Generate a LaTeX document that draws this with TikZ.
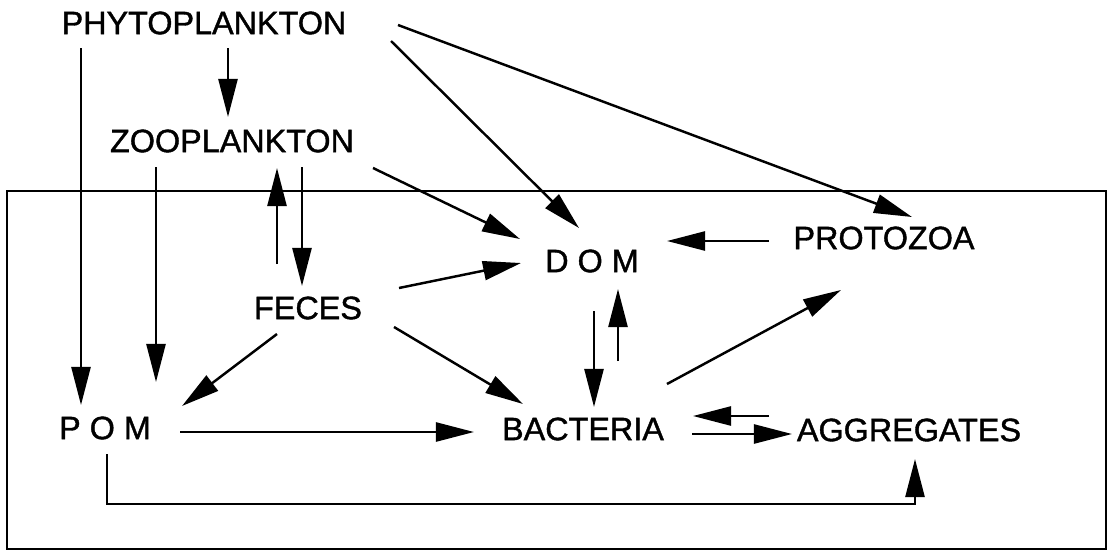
\documentclass[tikz,border=0pt]{standalone}
\usepackage{fontspec}
\setmainfont{Liberation Sans}
\newfontfamily\lblfont{Liberation Sans}[FakeBold=1.2]
\usetikzlibrary{arrows.meta,calc}
\begin{document}
\begin{tikzpicture}[x=0.01cm,y=-0.01cm,
  lbl/.style={inner sep=0pt,anchor=center,font=\lblfont\fontsize{9.2}{11}\selectfont},
  arr/.style={line width=0.7pt,-{Triangle[length=3.8mm,width=1.9mm]}},
  ln/.style={line width=0.6pt}]
\useasboundingbox (0,0) rectangle (1109,551);
\draw[ln] (7,191) rectangle (1106,549);
\node[lbl] (phyto) at (204,23) {PHYTOPLANKTON};
\node[lbl] (zoo) at (232,141) {ZOOPLANKTON};
\node[lbl] (feces) at (308,308) {FECES};
\node[lbl] (dom) at (592,261) {D O M};
\node[lbl] (proto) at (884,238) {PROTOZOA};
\node[lbl] (pom) at (105,428) {P O M};
\node[lbl] (bac) at (583,429) {BACTERIA};
\node[lbl] (agg) at (909,430) {AGGREGATES};
% from phytoplankton
\draw[arr] ($(phyto)+(24,25)$) -- ($(zoo)+(-4,-24)$);
\draw[arr] ($(phyto)+(-123,25)$) -- ($(pom)+(-24,-23)$);
\draw[arr] ($(phyto)+(187,18)$) -- ($(dom)+(-13,-33)$);
\draw[arr] ($(phyto)+(194,2)$) -- ($(proto)+(28,-21)$);
% zooplankton
\draw[arr] ($(zoo)+(-76,26)$) -- ($(pom)+(51,-46)$);
\draw[arr] ($(feces)+(-31,-44)$) -- ($(zoo)+(45,27)$);
\draw[arr] ($(zoo)+(70,26)$) -- ($(feces)+(-6,-22)$);
\draw[arr] ($(zoo)+(141,27)$) -- ($(dom)+(-72,-22)$);
% feces
\draw[arr] ($(feces)+(91,-20)$) -- ($(dom)+(-71,2)$);
\draw[arr] ($(feces)+(-31,26)$) -- ($(pom)+(77,-22)$);
\draw[arr] ($(feces)+(86,19)$) -- ($(bac)+(-60,-25)$);
% DOM / protozoa / bacteria
\draw[arr] ($(proto)+(-115,3)$) -- ($(dom)+(75,-20)$);
\draw[arr] ($(dom)+(2,50)$) -- ($(bac)+(11,-22)$);
\draw[arr] ($(bac)+(35,-68)$) -- ($(dom)+(26,28)$);
\draw[arr] ($(bac)+(84,-45)$) -- ($(proto)+(-43,52)$);
% POM / aggregates
\draw[arr] ($(pom)+(75,4)$) -- ($(bac)+(-109,3)$);
\draw[arr] ($(agg)+(-140,-14)$) -- ($(bac)+(110,-13)$);
\draw[arr] ($(bac)+(109,5)$) -- ($(agg)+(-117,4)$);
\draw[arr] ($(pom)+(2,26)$) |- ($(agg)+(6,74)$) -- ($(agg)+(6,29)$);
\end{tikzpicture}
\end{document}
